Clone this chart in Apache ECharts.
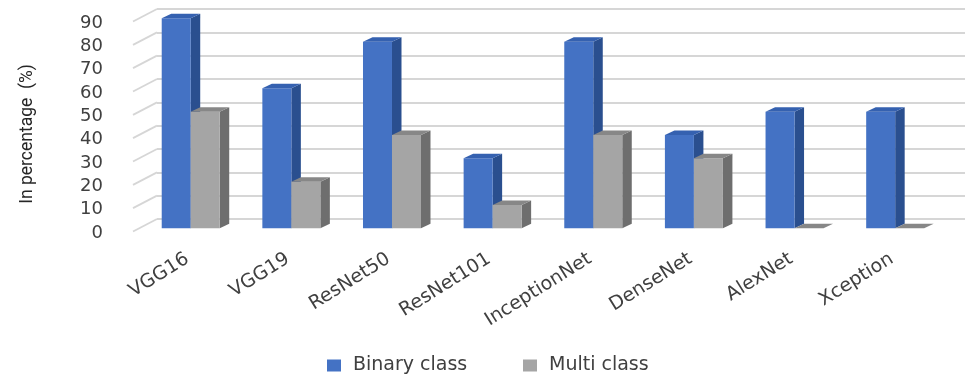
<!DOCTYPE html>
<html>
<head>
<meta charset="utf-8">
<script src="https://cdn.jsdelivr.net/npm/echarts@6/dist/echarts.min.js"></script>
<style>
  html, body { margin: 0; padding: 0; background: #ffffff; }
  #chart { width: 965px; height: 379px; }
</style>
</head>
<body>
<div id="chart"></div>
<script>
// Model names along the x axis
const categories = ['VGG16', 'VGG19', 'ResNet50', 'ResNet101', 'InceptionNet', 'DenseNet', 'AlexNet', 'Xception'];
// Percentages per model
const binaryClass = [90, 60, 80, 30, 80, 40, 50, 50];
const multiClass = [50, 20, 40, 10, 40, 30, 0, 0];
// Value-axis ticks
const yTicks = [0, 10, 20, 30, 40, 50, 60, 70, 80, 90];

const FONT = 'DejaVu Sans';
const BAR_W = 29;       // front face width
const DEPTH_X = 9.5;    // 3D extrusion
const DEPTH_Y = -4.5;

// Draws one extruded column: front face, right side face and top face.
function columnRenderer(offsetSide, front, side, topc) {
  return function (params, api) {
    const i = api.value(0);
    const v = api.value(1);
    const base = api.coord([i, 0]);
    const top = api.coord([i, v]);
    const x0 = base[0] + (offsetSide < 0 ? -BAR_W : 0);
    const x1 = x0 + BAR_W;
    const yb = base[1], yt = top[1];
    return {
      type: 'group',
      children: [
        {
          type: 'polygon',
          shape: { points: [[x1, yt], [x1 + DEPTH_X, yt + DEPTH_Y], [x1 + DEPTH_X, yb + DEPTH_Y], [x1, yb]] },
          style: { fill: side }
        },
        {
          type: 'rect',
          shape: { x: x0, y: yt, width: BAR_W, height: yb - yt },
          style: { fill: front }
        },
        {
          type: 'polygon',
          shape: { points: [[x0, yt], [x0 + DEPTH_X, yt + DEPTH_Y], [x1 + DEPTH_X, yt + DEPTH_Y], [x1, yt]] },
          style: { fill: topc }
        }
      ]
    };
  };
}

const chart = echarts.init(document.getElementById('chart'));

chart.setOption({
  animation: false,
  backgroundColor: '#ffffff',
  grid: [
    // 0: columns (front plane of bars)
    { left: 140.4, right: 19.5, top: 18.3, height: 210 },
    // 1: back wall with gridlines
    { left: 157, right: 0, top: 9, height: 210 },
    // 2: value tick labels
    { left: 133, width: 1, top: 23, height: 210 },
    // 3: axis title
    { left: 133, width: 1, top: 29, height: 210 }
  ],
  xAxis: [
    {
      gridIndex: 0,
      type: 'category',
      data: categories,
      axisLine: { show: false },
      axisTick: { show: false },
      axisLabel: {
        interval: 0,
        rotate: 32,
        margin: 27,
        padding: [0, 4, 0, 0],
        fontFamily: FONT,
        fontSize: 19,
        color: '#404040'
      }
    },
    { gridIndex: 1, type: 'value', min: 0, max: 1, show: false },
    { gridIndex: 2, type: 'value', min: 0, max: 1, show: false },
    { gridIndex: 3, type: 'value', min: 0, max: 1, show: false }
  ],
  yAxis: [
    { gridIndex: 0, type: 'value', min: 0, max: 90, interval: 10, show: false },
    {
      gridIndex: 1, type: 'value', min: 0, max: 90, interval: 10,
      axisLine: { show: false }, axisTick: { show: false }, axisLabel: { show: false },
      splitLine: { show: true, lineStyle: { color: '#d6d6d6', width: 1.8 } }
    },
    {
      gridIndex: 2, type: 'value', min: 0, max: 90, interval: 10,
      axisLine: { show: false }, axisTick: { show: false }, splitLine: { show: false },
      axisLabel: { margin: 30, fontFamily: FONT, fontSize: 18, color: '#404040' }
    },
    {
      gridIndex: 3, type: 'value', min: 0, max: 90,
      axisLine: { show: false }, axisTick: { show: false }, splitLine: { show: false },
      axisLabel: { show: false },
      name: 'In percentage  (%)',
      nameLocation: 'middle',
      nameGap: 96,
      nameTextStyle: { fontFamily: 'Roboto', fontSize: 17.5, color: '#262626' }
    }
  ],
  legend: [
    {
      data: ['Binary class'],
      left: 327, top: 356, padding: 0,
      icon: 'rect', itemWidth: 14, itemHeight: 12, selectedMode: false,
      textStyle: { fontFamily: FONT, fontSize: 19, color: '#404040', lineHeight: 18, padding: [0, 0, 0, 7] }
    },
    {
      data: ['Multi class'],
      left: 523, top: 356, padding: 0,
      icon: 'rect', itemWidth: 14, itemHeight: 12, selectedMode: false,
      textStyle: { fontFamily: FONT, fontSize: 19, color: '#404040', lineHeight: 18, padding: [0, 0, 0, 7] }
    }
  ],
  series: [
    {
      // slanted side-wall lines joining the front plane to the back wall
      type: 'custom',
      xAxisIndex: 1, yAxisIndex: 1,
      silent: true,
      data: yTicks.map(v => [0, v]),
      renderItem: function (params, api) {
        const p = api.coord([0, api.value(1)]);
        return {
          type: 'line',
          shape: { x1: p[0] - 24, y1: p[1] + 12.5, x2: p[0], y2: p[1] },
          style: { stroke: '#d6d6d6', lineWidth: 1.8 }
        };
      }
    },
    {
      name: 'Binary class',
      type: 'custom',
      xAxisIndex: 0, yAxisIndex: 0,
      itemStyle: { color: '#4472c4' },
      encode: { x: 0, y: 1 },
      data: binaryClass.map((v, i) => [i, v]),
      renderItem: columnRenderer(-1, '#4472c4', '#2a4f8f', '#3561b0')
    },
    {
      name: 'Multi class',
      type: 'custom',
      xAxisIndex: 0, yAxisIndex: 0,
      itemStyle: { color: '#a5a5a5' },
      encode: { x: 0, y: 1 },
      data: multiClass.map((v, i) => [i, v]),
      renderItem: columnRenderer(1, '#a5a5a5', '#6e6e6e', '#878787')
    }
  ]
});
</script>
</body>
</html>
